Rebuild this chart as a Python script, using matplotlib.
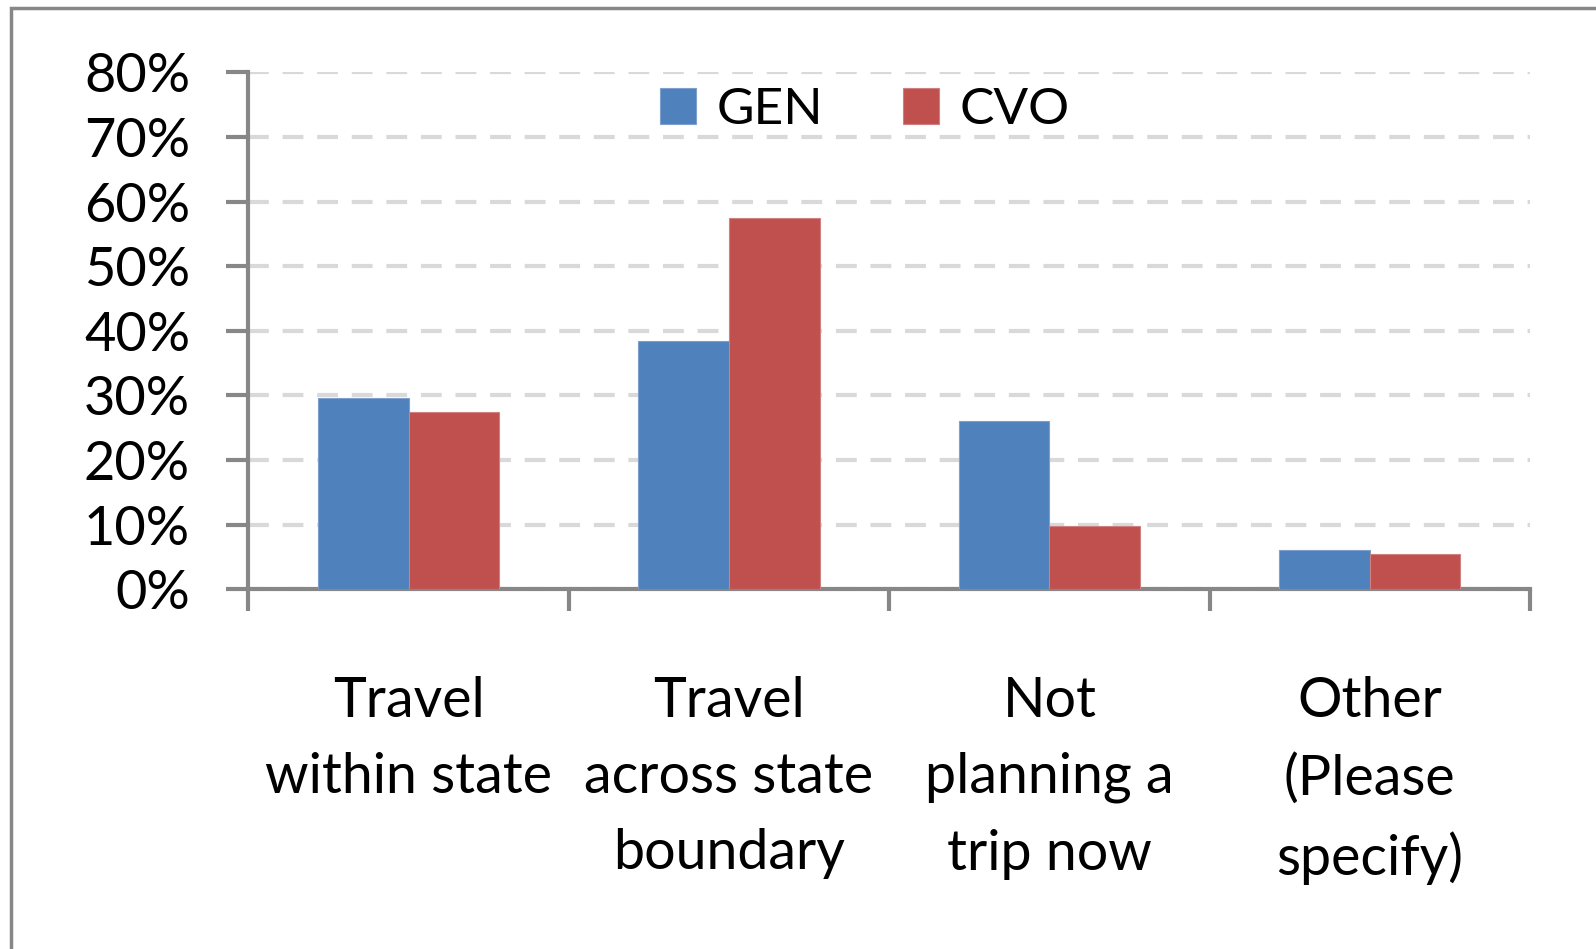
import matplotlib
matplotlib.use("Agg")
import matplotlib.pyplot as plt
from matplotlib.patches import Rectangle
import numpy as np

categories = ["Travel\nwithin state", "Travel\nacross state\nboundary",
              "Not\nplanning a\ntrip now", "Other\n(Please\nspecify)"]
gen = [29.6, 38.4, 26.0, 6.1]
cvo = [27.4, 57.5, 9.8, 5.4]
yticks = [0, 10, 20, 30, 40, 50, 60, 70, 80]
ytick_labels = ["0%", "10%", "20%", "30%", "40%", "50%", "60%", "70%", "80%"]

BLUE = "#4F81BD"
RED = "#C0504D"
GRAY = "#878787"

plt.rcParams['font.family'] = ['Lato', 'DejaVu Sans']

fig = plt.figure(figsize=(15.96, 9.49), dpi=100)
ax = fig.add_axes([248.4/1596, 1-589.4/949, (1530-248.4)/1596, (589.4-72.3)/949])

# outer chart border
fig.patches.append(Rectangle((11/1596, -0.1), 1.2, 1-8/949+0.1, transform=fig.transFigure,
                             fill=False, edgecolor=GRAY, linewidth=2.5))

x = np.arange(len(categories))
w = 0.283
ax.bar(x - w/2, gen, w, color=BLUE, edgecolor="#7f9fcf", linewidth=0.8, label="GEN", zorder=3)
ax.bar(x + w/2, cvo, w, color=RED, edgecolor="#d08080", linewidth=0.8, label="CVO", zorder=3)

ax.set_xlim(-0.5, len(categories) - 0.5)
ax.set_ylim(0, 80)
ax.set_yticks(yticks)
ax.set_yticklabels(ytick_labels, fontsize=39)
ax.tick_params(axis='y', length=16, width=3, color=GRAY, pad=26)

ax.set_xticks(np.arange(len(categories) + 1) - 0.5)
ax.set_xticklabels([])
ax.set_xticks(x, minor=True)
ax.set_xticklabels(categories, minor=True, fontsize=40, linespacing=1.62, va='top')
ax.tick_params(axis='x', which='major', length=16, width=3, color=GRAY, direction='out')
ax.tick_params(axis='x', which='minor', length=0, pad=62)

for s in ['top', 'right']:
    ax.spines[s].set_visible(False)
for s in ['left', 'bottom']:
    ax.spines[s].set_color(GRAY)
    ax.spines[s].set_linewidth(3)

ax.grid(axis='y', color="#D9D9D9", linewidth=3, linestyle=(0, (5, 3.3)), zorder=0)
ax.set_axisbelow(True)

leg = ax.legend(loc='center', bbox_to_anchor=(0.481, 0.928), ncol=2, frameon=False,
                fontsize=37, handlelength=0.7, handleheight=0.7, handletextpad=0.4,
                columnspacing=1.55)

fig.savefig("out.png", dpi=100)
